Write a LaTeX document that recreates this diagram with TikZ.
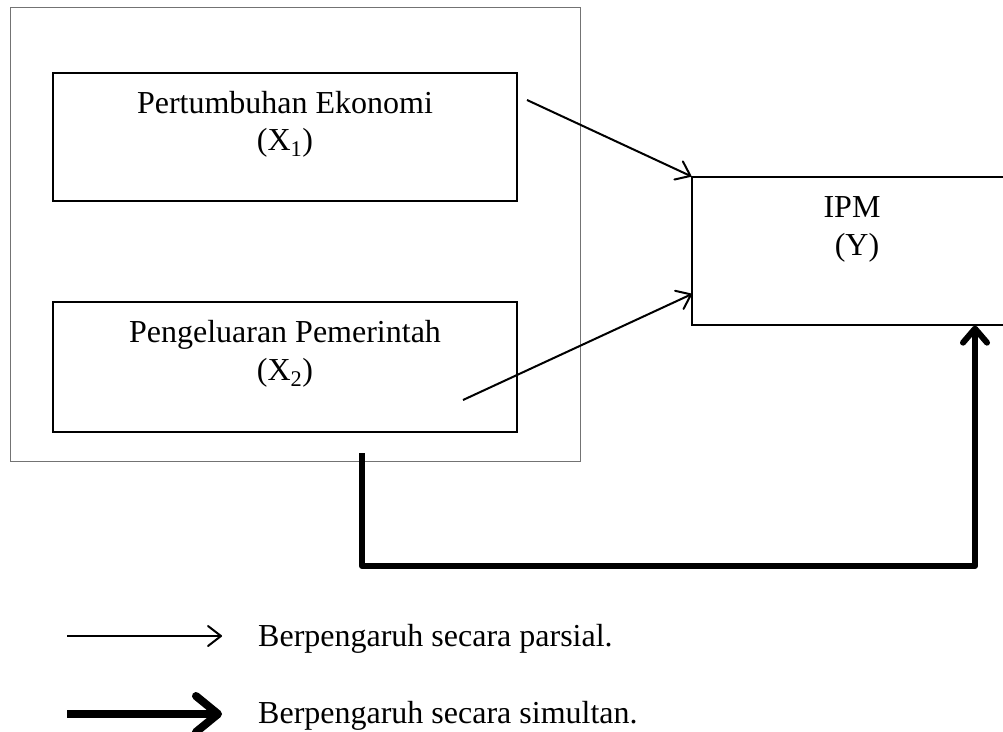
\documentclass[tikz,border=0pt]{standalone}
\usepackage{fontspec}
\setmainfont{Liberation Serif}
\usetikzlibrary{arrows.meta,calc}
\begin{document}
\begin{tikzpicture}[x=1pt,y=-1pt,
  box/.style={draw,line width=1.3pt,rectangle,inner sep=0pt},
  outerbox/.style={draw=black!55,line width=1pt,rectangle,inner sep=0pt},
  lbl/.style={anchor=base,inner sep=0pt,font=\fontsize{32}{38}\selectfont},
  partial/.style={line width=2pt,-{Straight Barb[length=13pt,width=20pt,round]}},
  simul/.style={line width=6pt,line join=round,-{Straight Barb[length=14pt,width=24pt,round]}},
  simulleg/.style={line width=8pt,-{Straight Barb[length=22pt,width=36pt,round]}}]
\clip (0,0) rectangle (1003,731);
\fill[white] (0,0) rectangle (1003,731);
% outer frame
\node[outerbox,minimum width=570pt,minimum height=454pt] (outer) at (295,234) {};
% boxes
\node[box,minimum width=464pt,minimum height=128pt] (x1) at (285,137) {};
\node[box,minimum width=464pt,minimum height=130pt] (x2) at (285,367) {};
\node[box,minimum width=320pt,minimum height=148pt] (ipm) at (852,251) {};
% labels
\node[lbl] (x1a) at (285,113) {Pertumbuhan Ekonomi};
\node[lbl] (x1b) at (285,150) {(X\textsubscript{1})};
\node[lbl] (x2a) at (285,342) {Pengeluaran Pemerintah};
\node[lbl] (x2b) at (285,380) {(X\textsubscript{2})};
\node[lbl] (ya) at (852,217) {IPM};
\node[lbl] (yb) at (857,255) {(Y)};
% partial arrows
\coordinate (p1) at (527,100);
\coordinate (p2) at (463,400);
\coordinate (t2) at (692,294);
\draw[partial] (p1) -- (ipm.north west);
\draw[partial] (p2) -- (t2);
% simultaneous arrow
\coordinate (s) at (362,453);
\coordinate (tb) at (975,566);
\draw[simul] (s) |- (tb) -- (tb |- ipm.south);
% legend
\coordinate (la) at (67,636);
\coordinate (lb) at (222,636);
\coordinate (lc) at (67,714);
\coordinate (ld) at (222,714);
\draw[partial] (la) -- (lb);
\draw[simulleg] (lc) -- (ld);
\node[lbl,anchor=base west] (leg1) at (258,646) {Berpengaruh secara parsial.};
\node[lbl,anchor=base west] (leg2) at (258,723) {Berpengaruh secara simultan.};
\end{tikzpicture}
\end{document}
